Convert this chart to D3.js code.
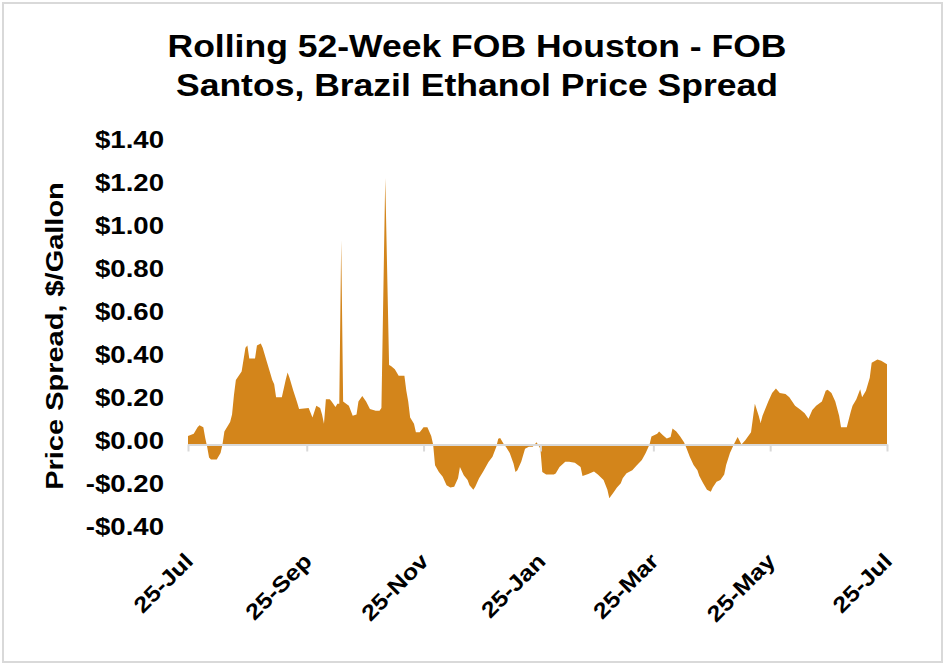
<!DOCTYPE html>
<html>
<head>
<meta charset="utf-8">
<script src="https://cdn.jsdelivr.net/npm/d3@7/dist/d3.min.js"></script>
<style>
  html, body { margin: 0; padding: 0; background: #fff; }
  svg { display: block; }
  text { font-family: "Liberation Sans", Arial, sans-serif; font-weight: bold; fill: #000; }
</style>
</head>
<body>
<svg id="chart" width="948" height="666"></svg>
<script>
// ---- data ----
const titleLines = ["Rolling 52-Week FOB Houston - FOB", "Santos, Brazil Ethanol Price Spread"];
const yAxisTitle = "Price Spread, $/Gallon";
const startDate = "2022-07-25";
// days since start date
const dayOffsets = [0,3,5,6,8,9,10,11,12,15,17,18,19,22,23,24,25,28,30,31,32,35,36,38,39,41,43,44,45,46,49,51,52,53,55,57,58,63,65,67,69,70,71,72,74,75,77,78,79,80,81,84,86,88,89,91,93,95,98,100,101,103,105,106,108,110,113,114,115,116,118,119,121,123,125,127,128,129,131,133,135,137,139,141,142,144,146,147,149,150,152,154,157,159,161,162,163,165,166,168,170,171,172,174,176,178,180,182,184,185,187,191,192,194,197,199,202,205,206,209,212,214,217,219,220,222,224,226,227,229,232,234,237,239,241,242,245,246,248,250,252,253,255,257,259,260,262,264,266,267,269,271,273,274,276,278,280,281,283,285,287,289,291,294,296,298,299,300,303,305,307,309,312,314,317,320,322,324,326,328,331,333,334,336,338,340,341,344,346,347,349,351,352,354,356,357,360,362,365];
const spreadValues = [0.04,0.05,0.08,0.09,0.08,0.03,-0.01,-0.06,-0.07,-0.07,-0.04,0.0,0.06,0.105,0.14,0.23,0.30,0.34,0.45,0.46,0.40,0.40,0.46,0.47,0.45,0.39,0.33,0.30,0.28,0.22,0.22,0.30,0.335,0.31,0.25,0.195,0.165,0.17,0.126,0.18,0.17,0.14,0.097,0.21,0.21,0.20,0.175,0.19,0.19,0.95,0.20,0.18,0.134,0.14,0.20,0.226,0.20,0.165,0.157,0.157,0.17,1.24,0.37,0.365,0.35,0.32,0.32,0.25,0.20,0.126,0.096,0.057,0.057,0.08,0.08,0.04,0.0,-0.097,-0.128,-0.15,-0.19,-0.20,-0.197,-0.157,-0.105,-0.143,-0.165,-0.19,-0.21,-0.197,-0.157,-0.128,-0.08,-0.057,-0.01,0.027,0.03,0.0,-0.01,-0.04,-0.09,-0.128,-0.12,-0.08,-0.02,-0.01,-0.01,0.01,-0.02,-0.128,-0.14,-0.14,-0.135,-0.105,-0.08,-0.08,-0.085,-0.105,-0.147,-0.137,-0.126,-0.14,-0.165,-0.21,-0.25,-0.225,-0.20,-0.18,-0.157,-0.134,-0.12,-0.10,-0.072,-0.04,0.0,0.037,0.05,0.06,0.043,0.028,0.035,0.074,0.06,0.037,0.01,-0.01,-0.057,-0.095,-0.12,-0.147,-0.18,-0.21,-0.22,-0.20,-0.173,-0.165,-0.14,-0.095,-0.04,0.0,0.035,0.0,0.02,0.057,0.19,0.134,0.10,0.134,0.20,0.24,0.26,0.24,0.235,0.22,0.18,0.16,0.145,0.12,0.16,0.18,0.20,0.25,0.255,0.24,0.20,0.134,0.08,0.08,0.15,0.18,0.21,0.257,0.22,0.25,0.31,0.38,0.395,0.39,0.373];
const yTickValues = [1.4,1.2,1.0,0.8,0.6,0.4,0.2,0.0,-0.2,-0.4];
const xTickDates = ["2022-07-25","2022-09-25","2022-11-25","2023-01-25","2023-03-25","2023-05-25","2023-07-25"];
const xTickLabels = ["25-Jul","25-Sep","25-Nov","25-Jan","25-Mar","25-May","25-Jul"];

// ---- setup ----
const parse = d3.utcParse("%Y-%m-%d");
const start = parse(startDate);
const data = dayOffsets.map((d, i) => ({ date: d3.utcDay.offset(start, d), value: spreadValues[i] }));

const svg = d3.select("#chart");
const fillColor = "#D3851B";

function stretch(sel, k) {
  sel.each(function () {
    const w = this.getComputedTextLength();
    this.setAttribute("textLength", w * k);
    this.setAttribute("lengthAdjust", "spacingAndGlyphs");
  });
}

// outer frame
svg.append("rect")
  .attr("x", 3).attr("y", 3).attr("width", 939).attr("height", 659)
  .attr("fill", "#fff").attr("stroke", "#d9d9d9").attr("stroke-width", 2);

const x = d3.scaleUtc()
  .domain([parse(xTickDates[0]), parse(xTickDates[xTickDates.length - 1])])
  .range([188, 887]);
const y = d3.scaleLinear().domain([-0.4, 1.4]).range([530.5, 143.5]);

// title
const title = svg.append("text").attr("text-anchor", "middle");
titleLines.forEach((t, i) => {
  title.append("tspan").attr("x", 477).attr("y", 57 + i * 39).text(t);
});
title.style("font-size", "32px");
stretch(title.selectAll("tspan"), 1.11);

// area
const area = d3.area()
  .x(d => x(d.date))
  .y0(y(0))
  .y1(d => y(d.value));
svg.append("path").datum(data)
  .attr("d", area)
  .attr("fill", fillColor);

// y axis (labels only)
const fmt = v => (v < 0 ? "-$" : "$") + Math.abs(v).toFixed(2);
const yAxis = svg.append("g")
  .attr("transform", "translate(164,0)")
  .call(d3.axisLeft(y).tickValues(yTickValues).tickFormat(fmt).tickSize(0).tickPadding(0));
yAxis.select(".domain").remove();
yAxis.selectAll("text")
  .attr("dy", "0.32em")
  .attr("y", -3)
  .style("font-size", "23px")
  .style("font-family", "'Liberation Sans', Arial, sans-serif")
  .style("font-weight", "bold")
  .attr("fill", "#000");
stretch(yAxis.selectAll("text"), 1.2);

// x axis at zero
const xAxis = svg.append("g")
  .attr("transform", `translate(0,${y(0)})`)
  .call(d3.axisBottom(x).tickValues(xTickDates.map(parse)).tickFormat((d, i) => xTickLabels[i]).tickSize(7).tickSizeOuter(0));
xAxis.select(".domain").attr("stroke", "#d9d9d9").attr("stroke-width", 2);
xAxis.selectAll(".tick line").attr("stroke", "#d9d9d9").attr("stroke-width", 2);
xAxis.selectAll("text")
  .attr("text-anchor", "end")
  .attr("y", 0).attr("dy", 0)
  .attr("transform", `translate(6,${118}) rotate(-45)`)
  .style("font-size", "22px")
  .style("font-family", "'Liberation Sans', Arial, sans-serif")
  .style("font-weight", "bold")
  .attr("fill", "#000");
stretch(xAxis.selectAll("text"), 1.15);

// y axis title
const yt = svg.append("text")
  .attr("text-anchor", "middle")
  .attr("transform", "translate(63,336) rotate(-90)")
  .style("font-size", "23px")
  .text(yAxisTitle);
stretch(yt, 1.26);
</script>
</body>
</html>
